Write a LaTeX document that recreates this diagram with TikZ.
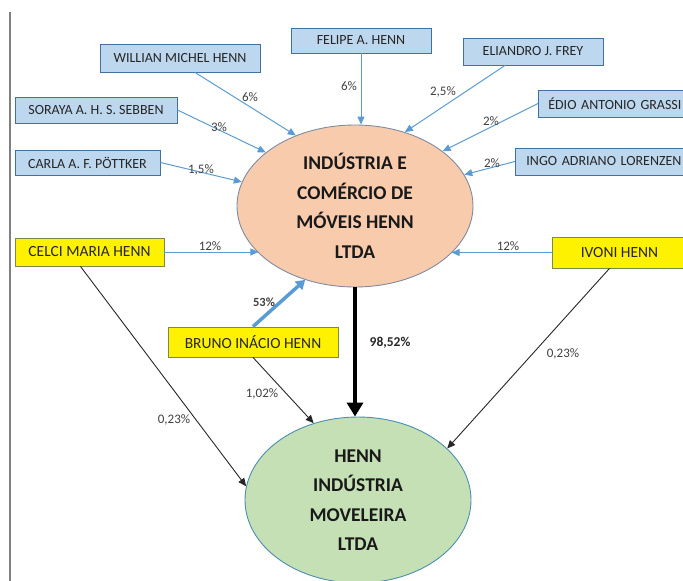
\documentclass[tikz,border=0pt]{standalone}
\usepackage{fontspec}
\setmainfont{Carlito}
\usetikzlibrary{shapes.geometric,calc,arrows.meta}
\definecolor{boxblue}{HTML}{BDD7EE}
\definecolor{boxline}{HTML}{41719C}
\definecolor{arrblue}{HTML}{5B9BD5}
\definecolor{orangefill}{HTML}{F8CBAD}
\definecolor{orangeline}{HTML}{7F8CA0}
\definecolor{greenfill}{HTML}{C5E0B4}
\definecolor{greenline}{HTML}{4A8FB0}
\definecolor{yelline}{HTML}{7A8A4A}
\definecolor{lbl}{HTML}{404040}
\tikzset{
  bluebox/.style={draw=boxline, line width=0.9pt, fill=boxblue, inner sep=0pt, font=\fontsize{14}{16}\selectfont, text=black!85},
  yelbox/.style={draw=yelline, line width=0.9pt, fill=yellow, inner sep=0pt, font=\fontsize{15.5}{18}\selectfont, text=black!85},
  bigell/.style={ellipse, draw, line width=0.9pt, inner sep=0pt, align=center, font=\bfseries\fontsize{19.5}{29.5}\selectfont, text=black!90},
  barrow/.style={draw=arrblue, line width=1pt, -{Triangle[length=8pt,width=7pt]}},
  karrow/.style={draw=black!85, line width=0.9pt, -{Triangle[length=8pt,width=7pt]}},
  pct/.style={font=\fontsize{13}{14}\selectfont, text=lbl, inner sep=1pt},
}
\begin{document}
\begin{tikzpicture}[x=1pt,y=-1pt]
\useasboundingbox (0,0) rectangle (683,581);
\draw[gray, line width=1.2pt] (10,12) -- (10,581);

% blue boxes
\node[bluebox, minimum width=140pt, minimum height=25pt] (felipe) at (361,40.5) {FELIPE A. HENN};
\node[bluebox, minimum width=160pt, minimum height=28pt] (willian) at (180,58) {WILLIAN MICHEL HENN};
\node[bluebox, minimum width=140pt, minimum height=27pt] (eliandro) at (533,51.5) {ELIANDRO J. FREY};
\node[bluebox, minimum width=162pt, minimum height=26pt] (soraya) at (96,110) {SORAYA A. H. S. SEBBEN};
\node[bluebox, minimum width=148pt, minimum height=27pt, anchor=west, text width=138pt, align=right] (edio) at (538,103.5) {ÉDIO ANTONIO GRASSI};
\node[bluebox, minimum width=145pt, minimum height=25pt] (carla) at (87.5,162.5) {CARLA A. F. PÖTTKER};
\node[bluebox, minimum width=170pt, minimum height=27pt, anchor=west, text width=162pt, align=right] (ingo) at (515,161.5) {INGO ADRIANO LORENZEN};

% yellow boxes
\node[yelbox, minimum width=149pt, minimum height=28pt] (celci) at (89.5,252) {CELCI MARIA HENN};
\node[yelbox, minimum width=134pt, minimum height=31pt, anchor=west] (ivoni) at (552,252.5) {IVONI HENN};
\node[yelbox, minimum width=170pt, minimum height=30pt] (bruno) at (253,342) {BRUNO INÁCIO HENN};

% ellipses
\node[bigell, fill=orangefill, draw=orangeline, minimum width=236pt, minimum height=162pt] (orange) at (355,206) {INDÚSTRIA E\\COMÉRCIO DE\\MÓVEIS HENN\\LTDA};
\node[bigell, fill=greenfill, draw=greenline, minimum width=226pt, minimum height=166pt] (green) at (358,500) {HENN\\INDÚSTRIA\\MOVELEIRA\\LTDA};

% blue arrows
\draw[barrow] (felipe.south) -- (felipe.south |- orange.north);
\draw[barrow] ($(willian.south)+(15,0)$) -- (orange.130);
\draw[barrow] (soraya.east) -- (orange.149);
\draw[barrow] (carla.east) -- (orange.168);
\draw[barrow] ($(eliandro.south)+(-28,0)$) -- (orange.56);
\draw[barrow] (edio.west) -- (orange.32);
\draw[barrow] (ingo.west) -- (orange.16);
\draw[barrow] (celci.east) -- (orange.206 |- celci.east);
\draw[barrow] (ivoni.west) -- (orange.334 |- ivoni.west);
\draw[draw=arrblue, line width=3.5pt, -{Triangle[length=9pt,width=11pt]}] (bruno.north) -- (orange.236);

% black arrows
\draw[black, line width=4.5pt, -{Triangle[length=14pt,width=16pt]}] (orange.south) -- (orange.south |- green.north);
\draw[karrow] (bruno.south) -- (green.120);
\draw[karrow] ($(celci.south)+(-9,0)$) -- (green.173);
\draw[karrow] ($(ivoni.south)+(-10,0)$) -- (green.30);

% percentage labels
\node[pct] (l1) at (349,86) {6\%};
\node[pct] (l2) at (250,97) {6\%};
\node[pct] (l3) at (219,127) {3\%};
\node[pct] (l4) at (201,170) {1,5\%};
\node[pct] (l5) at (443,92) {2,5\%};
\node[pct] (l6) at (491,121) {2\%};
\node[pct] (l7) at (492,163) {2\%};
\node[pct] (l8) at (210,246) {12\%};
\node[pct] (l9) at (508,246) {12\%};
\node[pct, font=\bfseries\fontsize{12.5}{14}\selectfont] (l10) at (264,302) {53\%};
\node[pct, font=\bfseries\fontsize{13.5}{14}\selectfont, text=black!85] (l11) at (390,343) {98,52\%};
\node[pct] (l12) at (262,394) {1,02\%};
\node[pct] (l13) at (174,420) {0,23\%};
\node[pct] (l14) at (563,354) {0,23\%};
\end{tikzpicture}
\end{document}
